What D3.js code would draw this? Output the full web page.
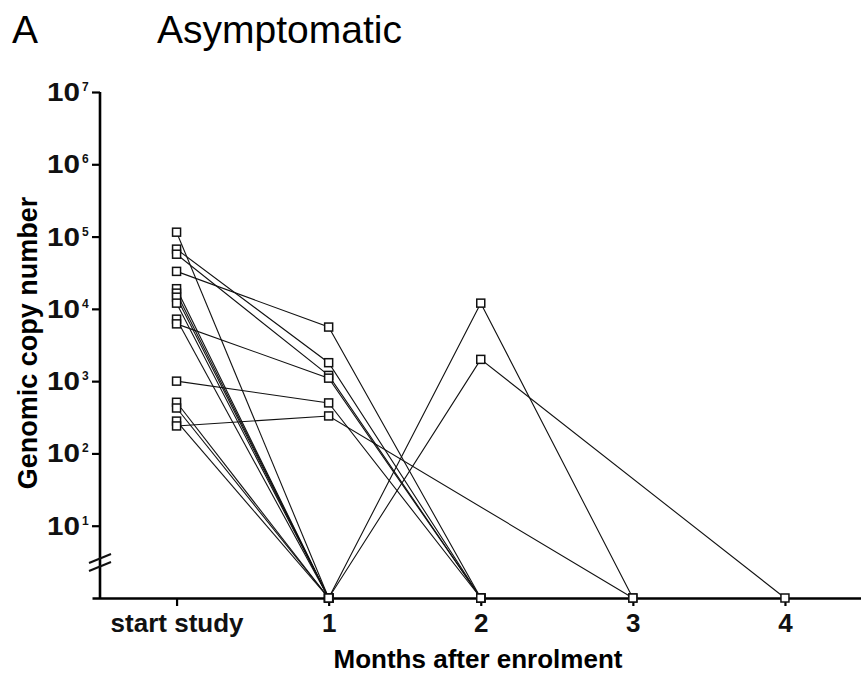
<!DOCTYPE html>
<html>
<head>
<meta charset="utf-8">
<script src="https://cdn.jsdelivr.net/npm/d3@7"></script>
<style>
  html, body { margin: 0; padding: 0; background: #fff; }
  svg { display: block; font-family: "Liberation Sans", Arial, sans-serif; }
</style>
</head>
<body>
<svg id="chart" width="861" height="676"></svg>
<script>
// Sampling points (months after enrolment) and their axis labels
const months = [0, 1, 2, 3, 4];
const monthLabels = ["start study", "1", "2", "3", "4"];
// Decade exponents shown on the log axis
const decadeExponents = [1, 2, 3, 4, 5, 6, 7];

// Genomic copy number per patient, one value per month.
// 0 = below detection (drawn on the axis), null = no sample that month.
const patient01 = [115000, 0];
const patient02 = [67000, 1800, 0];
const patient03 = [57000, 1200, 0];
const patient04 = [33000, 5600, 0];
const patient05 = [19000, 0, 12000, 0];
const patient06 = [16500, 0];
const patient07 = [14500, 0];
const patient08 = [12000, 0, 2000, null, 0];
const patient09 = [7200, 0];
const patient10 = [6200, 1100, 0];
const patient11 = [1000, 500, 0];
const patient12 = [510, 0];
const patient13 = [425, 0];
const patient14 = [280, 0];
const patient15 = [240, 330, null, 0];

const patients = [patient01, patient02, patient03, patient04, patient05,
  patient06, patient07, patient08, patient09, patient10, patient11,
  patient12, patient13, patient14, patient15];

const svg = d3.select("#chart");

// Scales: x runs a little past both ends of the sampled months
const x = d3.scaleLinear().domain([-0.556, 4.5]).range([92, 861]);
const y = d3.scaleLog().domain([1, 1e7]).range([598, 92]);
const yVal = v => y(v > 0 ? v : 1);

// Panel letter and title
svg.append("text").attr("x", 12).attr("y", 43)
  .attr("font-size", 39).text("A");
svg.append("text").attr("x", 157).attr("y", 43)
  .attr("font-size", 39).text("Asymptomatic");

// Patient trajectories (missing months are bridged)
const line = d3.line().x(d => x(d.m)).y(d => yVal(d.v));
const series = patients.map(p => p.map((v, i) => ({ m: months[i], v }))
  .filter(d => d.v !== null));

svg.append("g").selectAll("path").data(series).join("path")
  .attr("d", line)
  .attr("fill", "none")
  .attr("stroke", "#111")
  .attr("stroke-width", 1.1);

// Y axis (log, decades only)
const yAxis = svg.append("g").attr("transform", "translate(100,0)")
  .call(d3.axisLeft(y)
    .tickValues(decadeExponents.map(e => Math.pow(10, e)))
    .tickSize(8).tickFormat(""));
yAxis.select(".domain").attr("stroke-width", 2.6).attr("d", `M0,${y(1e7)}V${y(1)}`);
yAxis.selectAll(".tick line").attr("stroke-width", 2.2);

const yLabels = svg.append("g").attr("font-weight", "bold").attr("fill", "#111");
decadeExponents.forEach(e => {
  const ty = y(Math.pow(10, e));
  yLabels.append("text")
    .attr("x", 80).attr("y", ty + 9)
    .attr("text-anchor", "end")
    .attr("font-size", 25)
    .attr("textLength", 33).attr("lengthAdjust", "spacingAndGlyphs")
    .text("10");
  yLabels.append("text")
    .attr("x", 82).attr("y", ty - 1)
    .attr("font-size", 12)
    .text(e);
});

// Axis break marks
const brk = svg.append("g").attr("stroke", "#111").attr("stroke-width", 2);
[0, 8].forEach(dy => {
  brk.append("line")
    .attr("x1", 89).attr("y1", 563 + dy)
    .attr("x2", 111).attr("y2", 554 + dy);
});

// X axis
const xAxis = svg.append("g").attr("transform", `translate(0,${y(1)})`)
  .call(d3.axisBottom(x).tickValues(months).tickSize(8).tickSizeOuter(0)
    .tickFormat((d, i) => monthLabels[i]));
xAxis.select(".domain").attr("stroke-width", 2.6);
xAxis.selectAll(".tick line").attr("stroke-width", 2.2);
xAxis.selectAll(".tick text")
  .attr("font-family", "Liberation Sans, Arial, sans-serif")
  .attr("font-size", 26).attr("font-weight", "bold")
  .attr("fill", "#111").attr("dy", 0).attr("y", 34);

// Markers
const pts = series.flat();
svg.append("g").selectAll("rect").data(pts).join("rect")
  .attr("x", d => x(d.m) - 4)
  .attr("y", d => yVal(d.v) - 4)
  .attr("width", 8).attr("height", 8)
  .attr("fill", "#fff")
  .attr("stroke", "#111")
  .attr("stroke-width", 1.5);

// Axis titles
svg.append("text")
  .attr("x", 478).attr("y", 668)
  .attr("text-anchor", "middle")
  .attr("font-size", 26).attr("font-weight", "bold")
  .text("Months after enrolment");
svg.append("text")
  .attr("transform", "translate(37,343) rotate(-90)")
  .attr("text-anchor", "middle")
  .attr("font-size", 27).attr("font-weight", "bold")
  .text("Genomic copy number");
</script>
</body>
</html>
